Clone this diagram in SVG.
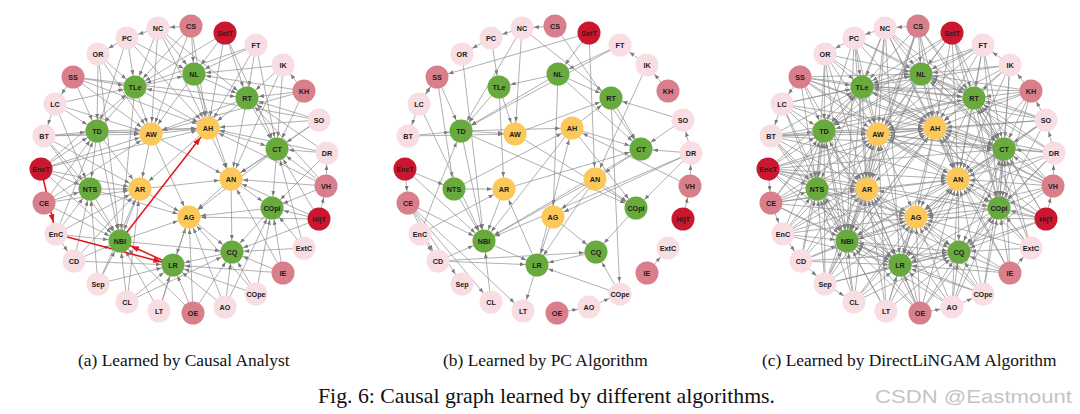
<svg xmlns="http://www.w3.org/2000/svg" xmlns:xlink="http://www.w3.org/1999/xlink" width="1080" height="414" viewBox="0 0 1080 414">
<defs>
<style>
.e{fill:none;stroke:#8e8e8e;stroke-width:0.7;marker-end:url(#ah)}
.r{fill:none;stroke:#e5131c;stroke-width:1.5;marker-end:url(#rh)}
.n text{font-family:"Liberation Sans",Arial,sans-serif;font-size:7.2px;font-weight:bold;fill:#202020;text-anchor:middle;dominant-baseline:central}
.d circle{fill:#c8172e}
.m circle{fill:#d97f8c}
.l circle{fill:#f8dde3}
.g circle{fill:#69aa3e}
.y circle{fill:#fcc85a}
.cap{font-family:"Liberation Serif","Times New Roman",serif;fill:#111}
.wm{font-family:"Liberation Sans",Arial,sans-serif;fill:#c4c4c4}
</style>
<marker id="ah" viewBox="0 0 17 4" refX="17" refY="2" markerWidth="17" markerHeight="4" markerUnits="userSpaceOnUse" orient="auto"><path d="M0 0L5 2L0 4z" fill="#7a7a7a" stroke="none"/></marker>
<marker id="rh" viewBox="0 0 20 6" refX="20" refY="3" markerWidth="20" markerHeight="6" markerUnits="userSpaceOnUse" orient="auto"><path d="M0 0L8 3L0 6z" fill="#e5131c" stroke="none"/></marker>
</defs>
<rect width="1080" height="414" fill="#ffffff"/>

<g id="panel-a">
<g id="a-edges" class="e">
<path d="M191 26L158 28"/><path d="M158 28L127 38"/><path d="M127 38L98 54"/><path d="M73 77L55 104"/><path d="M55 104L44 136"/><path d="M304 91L283 65"/><path d="M326 186L327 153"/><path d="M319 219L326 186"/><path d="M56 234L74 261"/>
<path d="M158 28L135 87"/><path d="M158 28L151 134"/><path d="M158 28L194 74"/><path d="M158 28L247 98"/><path d="M158 28L208 128"/>
<path d="M191 26L194 74"/><path d="M191 26L135 87"/><path d="M191 26L208 128"/><path d="M191 26L151 134"/>
<path d="M225 33L194 74"/><path d="M225 33L135 87"/><path d="M225 33L247 98"/><path d="M225 33L208 128"/><path d="M225 33L277 149"/>
<path d="M127 38L135 87"/><path d="M127 38L97 131"/><path d="M127 38L208 128"/><path d="M127 38L194 74"/>
<path d="M256 45L194 74"/><path d="M256 45L247 98"/><path d="M256 45L208 128"/><path d="M256 45L277 149"/><path d="M256 45L135 87"/>
<path d="M98 54L97 131"/><path d="M98 54L135 87"/><path d="M98 54L120 241"/><path d="M98 54L151 134"/>
<path d="M283 65L247 98"/><path d="M283 65L277 149"/><path d="M283 65L194 74"/><path d="M283 65L231 179"/>
<path d="M73 77L135 87"/><path d="M73 77L97 131"/><path d="M73 77L151 134"/><path d="M73 77L208 128"/><path d="M73 77L247 98"/>
<path d="M304 91L247 98"/><path d="M304 91L194 74"/><path d="M304 91L277 149"/><path d="M304 91L151 134"/>
<path d="M55 104L97 131"/><path d="M55 104L135 87"/><path d="M55 104L90 189"/><path d="M55 104L151 134"/>
<path d="M319 120L247 98"/><path d="M319 120L277 149"/><path d="M319 120L208 128"/><path d="M319 120L231 179"/><path d="M319 120L135 87"/>
<path d="M44 136L97 131"/><path d="M44 136L151 134"/><path d="M44 136L90 189"/><path d="M44 136L140 189"/><path d="M44 136L208 128"/><path d="M44 136L120 241"/>
<path d="M327 153L277 149"/><path d="M327 153L247 98"/><path d="M327 153L208 128"/><path d="M327 153L272 208"/>
<path d="M41 169L97 131"/><path d="M41 169L90 189"/><path d="M41 169L140 189"/><path d="M41 169L151 134"/><path d="M41 169L135 87"/><path d="M41 169L120 241"/><path d="M41 169L208 128"/>
<path d="M326 186L277 149"/><path d="M326 186L272 208"/><path d="M326 186L231 179"/><path d="M326 186L247 98"/><path d="M326 186L208 128"/>
<path d="M44 203L90 189"/><path d="M44 203L97 131"/><path d="M44 203L140 189"/><path d="M44 203L120 241"/><path d="M44 203L151 134"/>
<path d="M319 219L272 208"/><path d="M319 219L231 179"/><path d="M319 219L277 149"/><path d="M319 219L189 217"/><path d="M319 219L232 252"/>
<path d="M56 234L120 241"/><path d="M56 234L90 189"/><path d="M56 234L140 189"/><path d="M56 234L97 131"/>
<path d="M304 248L272 208"/><path d="M304 248L232 252"/><path d="M304 248L277 149"/>
<path d="M74 261L120 241"/><path d="M74 261L90 189"/><path d="M74 261L173 265"/><path d="M74 261L140 189"/>
<path d="M283 273L272 208"/><path d="M283 273L232 252"/><path d="M283 273L231 179"/><path d="M283 273L173 265"/>
<path d="M98 284L120 241"/><path d="M98 284L173 265"/><path d="M98 284L140 189"/><path d="M98 284L90 189"/>
<path d="M127 302L120 241"/><path d="M127 302L173 265"/><path d="M127 302L140 189"/><path d="M127 302L232 252"/>
<path d="M256 294L232 252"/><path d="M256 294L272 208"/><path d="M256 294L173 265"/><path d="M256 294L189 217"/>
<path d="M159 311L173 265"/><path d="M159 311L120 241"/><path d="M159 311L189 217"/>
<path d="M225 307L232 252"/><path d="M225 307L173 265"/><path d="M225 307L189 217"/><path d="M225 307L272 208"/>
<path d="M193 313L173 265"/><path d="M193 313L232 252"/><path d="M193 313L120 241"/><path d="M193 313L189 217"/>
<path d="M135 87L151 134"/><path d="M135 87L97 131"/><path d="M135 87L208 128"/><path d="M135 87L194 74"/><path d="M135 87L120 241"/>
<path d="M194 74L208 128"/><path d="M194 74L247 98"/><path d="M194 74L151 134"/><path d="M194 74L231 179"/>
<path d="M247 98L208 128"/><path d="M247 98L277 149"/><path d="M247 98L231 179"/><path d="M247 98L151 134"/>
<path d="M97 131L151 134"/><path d="M97 131L90 189"/><path d="M97 131L140 189"/><path d="M97 131L120 241"/><path d="M97 131L208 128"/>
<path d="M151 134L140 189"/><path d="M151 134L231 179"/><path d="M151 134L208 128"/><path d="M151 134L189 217"/>
<path d="M208 128L231 179"/><path d="M208 128L277 149"/><path d="M208 128L140 189"/>
<path d="M277 149L231 179"/><path d="M277 149L272 208"/><path d="M277 149L189 217"/>
<path d="M90 189L140 189"/><path d="M90 189L120 241"/><path d="M90 189L189 217"/>
<path d="M140 189L189 217"/><path d="M140 189L120 241"/><path d="M140 189L231 179"/>
<path d="M231 179L272 208"/><path d="M231 179L189 217"/><path d="M231 179L232 252"/>
<path d="M272 208L232 252"/><path d="M272 208L189 217"/>
<path d="M189 217L232 252"/><path d="M189 217L173 265"/><path d="M120 241L189 217"/>
<path d="M120 241L232 252"/><path d="M232 252L173 265"/>
</g>
<g id="a-red-edges" class="r">
<path d="M41 169L56 234"/><path d="M56 234L173 265"/><path d="M173 265L120 241"/><path d="M120 241L208 128"/>
</g>
<g id="a-NC" class="n l"><circle cx="158" cy="28" r="11.5"/><text x="158" y="28">NC</text></g>
<g id="a-CS" class="n m"><circle cx="191" cy="26" r="11.5"/><text x="191" y="26">CS</text></g>
<g id="a-SetT" class="n d"><circle cx="225" cy="33" r="11.5"/><text x="225" y="33">SetT</text></g>
<g id="a-PC" class="n l"><circle cx="127" cy="38" r="11.5"/><text x="127" y="38">PC</text></g>
<g id="a-FT" class="n l"><circle cx="256" cy="45" r="11.5"/><text x="256" y="45">FT</text></g>
<g id="a-OR" class="n l"><circle cx="98" cy="54" r="11.5"/><text x="98" y="54">OR</text></g>
<g id="a-IK" class="n l"><circle cx="283" cy="65" r="11.5"/><text x="283" y="65">IK</text></g>
<g id="a-SS" class="n m"><circle cx="73" cy="77" r="11.5"/><text x="73" y="77">SS</text></g>
<g id="a-NL" class="n g"><circle cx="194" cy="74" r="11.5"/><text x="194" y="74">NL</text></g>
<g id="a-KH" class="n m"><circle cx="304" cy="91" r="11.5"/><text x="304" y="91">KH</text></g>
<g id="a-TLe" class="n g"><circle cx="135" cy="87" r="11.5"/><text x="135" y="87">TLe</text></g>
<g id="a-LC" class="n l"><circle cx="55" cy="104" r="11.5"/><text x="55" y="104">LC</text></g>
<g id="a-RT" class="n g"><circle cx="247" cy="98" r="11.5"/><text x="247" y="98">RT</text></g>
<g id="a-SO" class="n l"><circle cx="319" cy="120" r="11.5"/><text x="319" y="120">SO</text></g>
<g id="a-BT" class="n l"><circle cx="44" cy="136" r="11.5"/><text x="44" y="136">BT</text></g>
<g id="a-TD" class="n g"><circle cx="97" cy="131" r="11.5"/><text x="97" y="131">TD</text></g>
<g id="a-AW" class="n y"><circle cx="151" cy="134" r="11.5"/><text x="151" y="134">AW</text></g>
<g id="a-AH" class="n y"><circle cx="208" cy="128" r="11.5"/><text x="208" y="128">AH</text></g>
<g id="a-CT" class="n g"><circle cx="277" cy="149" r="11.5"/><text x="277" y="149">CT</text></g>
<g id="a-DR" class="n l"><circle cx="327" cy="153" r="11.5"/><text x="327" y="153">DR</text></g>
<g id="a-EncT" class="n d"><circle cx="41" cy="169" r="11.5"/><text x="41" y="169">EncT</text></g>
<g id="a-NTS" class="n g"><circle cx="90" cy="189" r="11.5"/><text x="90" y="189">NTS</text></g>
<g id="a-AR" class="n y"><circle cx="140" cy="189" r="11.5"/><text x="140" y="189">AR</text></g>
<g id="a-AN" class="n y"><circle cx="231" cy="179" r="11.5"/><text x="231" y="179">AN</text></g>
<g id="a-VH" class="n m"><circle cx="326" cy="186" r="11.5"/><text x="326" y="186">VH</text></g>
<g id="a-CE" class="n m"><circle cx="44" cy="203" r="11.5"/><text x="44" y="203">CE</text></g>
<g id="a-COpi" class="n g"><circle cx="272" cy="208" r="11.5"/><text x="272" y="208">COpi</text></g>
<g id="a-HijT" class="n d"><circle cx="319" cy="219" r="11.5"/><text x="319" y="219">HijT</text></g>
<g id="a-AG" class="n y"><circle cx="189" cy="217" r="11.5"/><text x="189" y="217">AG</text></g>
<g id="a-EnC" class="n l"><circle cx="56" cy="234" r="11.5"/><text x="56" y="234">EnC</text></g>
<g id="a-NBI" class="n g"><circle cx="120" cy="241" r="11.5"/><text x="120" y="241">NBI</text></g>
<g id="a-ExtC" class="n l"><circle cx="304" cy="248" r="11.5"/><text x="304" y="248">ExtC</text></g>
<g id="a-CQ" class="n g"><circle cx="232" cy="252" r="11.5"/><text x="232" y="252">CQ</text></g>
<g id="a-LR" class="n g"><circle cx="173" cy="265" r="11.5"/><text x="173" y="265">LR</text></g>
<g id="a-CD" class="n l"><circle cx="74" cy="261" r="11.5"/><text x="74" y="261">CD</text></g>
<g id="a-IE" class="n m"><circle cx="283" cy="273" r="11.5"/><text x="283" y="273">IE</text></g>
<g id="a-Sep" class="n l"><circle cx="98" cy="284" r="11.5"/><text x="98" y="284">Sep</text></g>
<g id="a-CL" class="n l"><circle cx="127" cy="302" r="11.5"/><text x="127" y="302">CL</text></g>
<g id="a-COpe" class="n l"><circle cx="256" cy="294" r="11.5"/><text x="256" y="294">COpe</text></g>
<g id="a-LT" class="n l"><circle cx="159" cy="311" r="11.5"/><text x="159" y="311">LT</text></g>
<g id="a-AO" class="n l"><circle cx="225" cy="307" r="11.5"/><text x="225" y="307">AO</text></g>
<g id="a-OE" class="n m"><circle cx="193" cy="313" r="11.5"/><text x="193" y="313">OE</text></g>
</g>

<g id="panel-b" transform="translate(364 0)">
<g id="b-edges" class="e">
<path d="M191 26L158 28"/><path d="M158 28L127 38"/><path d="M127 38L98 54"/><path d="M73 77L55 104"/><path d="M55 104L73 77"/><path d="M55 104L44 136"/><path d="M304 91L283 65"/><path d="M283 65L256 45"/><path d="M327 153L319 120"/><path d="M326 186L327 153"/><path d="M319 219L326 186"/><path d="M41 169L44 203"/><path d="M283 273L304 248"/><path d="M193 313L225 307"/><path d="M225 307L256 294"/>
<path d="M44 203L74 261"/><path d="M44 203L98 284"/><path d="M44 203L127 302"/><path d="M44 203L159 311"/><path d="M56 234L74 261"/>
<path d="M225 33L73 77"/><path d="M225 33L231 179"/><path d="M225 33L194 74"/><path d="M127 38L135 87"/><path d="M158 28L151 134"/><path d="M158 28L97 131"/><path d="M158 28L247 98"/><path d="M191 26L277 149"/><path d="M98 54L120 241"/>
<path d="M256 45L194 74"/><path d="M256 45L97 131"/><path d="M283 65L231 179"/>
<path d="M194 74L247 98"/><path d="M194 74L277 149"/><path d="M194 74L189 217"/><path d="M194 74L135 87"/><path d="M194 74L97 131"/>
<path d="M208 128L247 98"/><path d="M151 134L247 98"/><path d="M208 128L277 149"/><path d="M208 128L272 208"/>
<path d="M319 120L247 98"/><path d="M319 120L277 149"/><path d="M327 153L277 149"/><path d="M327 153L272 208"/><path d="M327 153L120 241"/><path d="M327 153L189 217"/><path d="M326 186L208 128"/>
<path d="M247 98L256 294"/><path d="M247 98L277 149"/>
<path d="M135 87L97 131"/><path d="M135 87L151 134"/><path d="M97 131L151 134"/><path d="M44 136L151 134"/><path d="M44 136L97 131"/><path d="M73 77L97 131"/><path d="M73 77L90 189"/><path d="M55 104L120 241"/><path d="M97 131L120 241"/><path d="M97 131L208 128"/><path d="M135 87L140 189"/>
<path d="M41 169L120 241"/><path d="M41 169L90 189"/><path d="M90 189L120 241"/><path d="M140 189L120 241"/><path d="M90 189L140 189"/><path d="M140 189L277 149"/><path d="M90 189L208 128"/><path d="M151 134L272 208"/><path d="M97 131L272 208"/>
<path d="M56 234L97 131"/><path d="M56 234L140 189"/><path d="M44 203L120 241"/><path d="M74 261L120 241"/><path d="M74 261L173 265"/><path d="M74 261L232 252"/><path d="M127 302L120 241"/>
<path d="M173 265L159 311"/><path d="M173 265L140 189"/><path d="M173 265L208 128"/><path d="M120 241L173 265"/>
<path d="M231 179L189 217"/><path d="M231 179L173 265"/><path d="M231 179L272 208"/><path d="M231 179L120 241"/><path d="M189 217L232 252"/><path d="M189 217L173 265"/><path d="M272 208L232 252"/><path d="M277 149L120 241"/><path d="M232 252L173 265"/><path d="M256 294L173 265"/><path d="M256 294L232 252"/><path d="M208 128L120 241"/><path d="M277 149L231 179"/>
</g>
<g id="b-NC" class="n l"><circle cx="158" cy="28" r="11.5"/><text x="158" y="28">NC</text></g>
<g id="b-CS" class="n m"><circle cx="191" cy="26" r="11.5"/><text x="191" y="26">CS</text></g>
<g id="b-SetT" class="n d"><circle cx="225" cy="33" r="11.5"/><text x="225" y="33">SetT</text></g>
<g id="b-PC" class="n l"><circle cx="127" cy="38" r="11.5"/><text x="127" y="38">PC</text></g>
<g id="b-FT" class="n l"><circle cx="256" cy="45" r="11.5"/><text x="256" y="45">FT</text></g>
<g id="b-OR" class="n l"><circle cx="98" cy="54" r="11.5"/><text x="98" y="54">OR</text></g>
<g id="b-IK" class="n l"><circle cx="283" cy="65" r="11.5"/><text x="283" y="65">IK</text></g>
<g id="b-SS" class="n m"><circle cx="73" cy="77" r="11.5"/><text x="73" y="77">SS</text></g>
<g id="b-NL" class="n g"><circle cx="194" cy="74" r="11.5"/><text x="194" y="74">NL</text></g>
<g id="b-KH" class="n m"><circle cx="304" cy="91" r="11.5"/><text x="304" y="91">KH</text></g>
<g id="b-TLe" class="n g"><circle cx="135" cy="87" r="11.5"/><text x="135" y="87">TLe</text></g>
<g id="b-LC" class="n l"><circle cx="55" cy="104" r="11.5"/><text x="55" y="104">LC</text></g>
<g id="b-RT" class="n g"><circle cx="247" cy="98" r="11.5"/><text x="247" y="98">RT</text></g>
<g id="b-SO" class="n l"><circle cx="319" cy="120" r="11.5"/><text x="319" y="120">SO</text></g>
<g id="b-BT" class="n l"><circle cx="44" cy="136" r="11.5"/><text x="44" y="136">BT</text></g>
<g id="b-TD" class="n g"><circle cx="97" cy="131" r="11.5"/><text x="97" y="131">TD</text></g>
<g id="b-AW" class="n y"><circle cx="151" cy="134" r="11.5"/><text x="151" y="134">AW</text></g>
<g id="b-AH" class="n y"><circle cx="208" cy="128" r="11.5"/><text x="208" y="128">AH</text></g>
<g id="b-CT" class="n g"><circle cx="277" cy="149" r="11.5"/><text x="277" y="149">CT</text></g>
<g id="b-DR" class="n l"><circle cx="327" cy="153" r="11.5"/><text x="327" y="153">DR</text></g>
<g id="b-EncT" class="n d"><circle cx="41" cy="169" r="11.5"/><text x="41" y="169">EncT</text></g>
<g id="b-NTS" class="n g"><circle cx="90" cy="189" r="11.5"/><text x="90" y="189">NTS</text></g>
<g id="b-AR" class="n y"><circle cx="140" cy="189" r="11.5"/><text x="140" y="189">AR</text></g>
<g id="b-AN" class="n y"><circle cx="231" cy="179" r="11.5"/><text x="231" y="179">AN</text></g>
<g id="b-VH" class="n m"><circle cx="326" cy="186" r="11.5"/><text x="326" y="186">VH</text></g>
<g id="b-CE" class="n m"><circle cx="44" cy="203" r="11.5"/><text x="44" y="203">CE</text></g>
<g id="b-COpi" class="n g"><circle cx="272" cy="208" r="11.5"/><text x="272" y="208">COpi</text></g>
<g id="b-HijT" class="n d"><circle cx="319" cy="219" r="11.5"/><text x="319" y="219">HijT</text></g>
<g id="b-AG" class="n y"><circle cx="189" cy="217" r="11.5"/><text x="189" y="217">AG</text></g>
<g id="b-EnC" class="n l"><circle cx="56" cy="234" r="11.5"/><text x="56" y="234">EnC</text></g>
<g id="b-NBI" class="n g"><circle cx="120" cy="241" r="11.5"/><text x="120" y="241">NBI</text></g>
<g id="b-ExtC" class="n l"><circle cx="304" cy="248" r="11.5"/><text x="304" y="248">ExtC</text></g>
<g id="b-CQ" class="n g"><circle cx="232" cy="252" r="11.5"/><text x="232" y="252">CQ</text></g>
<g id="b-LR" class="n g"><circle cx="173" cy="265" r="11.5"/><text x="173" y="265">LR</text></g>
<g id="b-CD" class="n l"><circle cx="74" cy="261" r="11.5"/><text x="74" y="261">CD</text></g>
<g id="b-IE" class="n m"><circle cx="283" cy="273" r="11.5"/><text x="283" y="273">IE</text></g>
<g id="b-Sep" class="n l"><circle cx="98" cy="284" r="11.5"/><text x="98" y="284">Sep</text></g>
<g id="b-CL" class="n l"><circle cx="127" cy="302" r="11.5"/><text x="127" y="302">CL</text></g>
<g id="b-COpe" class="n l"><circle cx="256" cy="294" r="11.5"/><text x="256" y="294">COpe</text></g>
<g id="b-LT" class="n l"><circle cx="159" cy="311" r="11.5"/><text x="159" y="311">LT</text></g>
<g id="b-AO" class="n l"><circle cx="225" cy="307" r="11.5"/><text x="225" y="307">AO</text></g>
<g id="b-OE" class="n m"><circle cx="193" cy="313" r="11.5"/><text x="193" y="313">OE</text></g>
</g>

<g id="panel-c" transform="translate(727 0)">
<g id="c-edges" class="e">
<use href="#a-edges" xlink:href="#a-edges"/>
<path d="M41 169L44 203"/><path d="M44 203L56 234"/><path d="M74 261L98 284"/><path d="M98 284L127 302"/><path d="M283 65L256 45"/><path d="M327 153L319 120"/><path d="M193 313L225 307"/><path d="M225 307L256 294"/><path d="M283 273L304 248"/><path d="M319 120L304 91"/>
<path d="M120 241L208 128"/><path d="M56 234L173 265"/>
<path d="M158 28L277 149"/><path d="M158 28L90 189"/><path d="M158 28L140 189"/><path d="M158 28L231 179"/><path d="M158 28L173 265"/>
<path d="M191 26L247 98"/><path d="M191 26L140 189"/><path d="M191 26L231 179"/><path d="M191 26L277 149"/><path d="M191 26L120 241"/>
<path d="M225 33L151 134"/><path d="M225 33L231 179"/><path d="M225 33L97 131"/><path d="M225 33L272 208"/>
<path d="M127 38L151 134"/><path d="M127 38L140 189"/><path d="M127 38L120 241"/><path d="M127 38L247 98"/>
<path d="M256 45L151 134"/><path d="M256 45L231 179"/><path d="M256 45L272 208"/><path d="M256 45L97 131"/>
<path d="M98 54L140 189"/><path d="M98 54L90 189"/><path d="M98 54L208 128"/><path d="M98 54L194 74"/>
<path d="M283 65L208 128"/><path d="M283 65L272 208"/><path d="M283 65L151 134"/><path d="M283 65L135 87"/>
<path d="M73 77L194 74"/><path d="M73 77L90 189"/><path d="M73 77L140 189"/><path d="M73 77L277 149"/><path d="M73 77L231 179"/>
<path d="M304 91L208 128"/><path d="M304 91L231 179"/><path d="M304 91L272 208"/><path d="M304 91L135 87"/>
<path d="M55 104L140 189"/><path d="M55 104L120 241"/><path d="M55 104L208 128"/><path d="M55 104L194 74"/>
<path d="M319 120L194 74"/><path d="M319 120L151 134"/><path d="M319 120L272 208"/><path d="M319 120L189 217"/>
<path d="M44 136L135 87"/><path d="M44 136L231 179"/><path d="M44 136L173 265"/><path d="M44 136L247 98"/><path d="M44 136L277 149"/>
<path d="M327 153L194 74"/><path d="M327 153L231 179"/><path d="M327 153L151 134"/><path d="M327 153L189 217"/><path d="M327 153L232 252"/>
<path d="M41 169L231 179"/><path d="M41 169L189 217"/><path d="M41 169L272 208"/><path d="M41 169L173 265"/><path d="M41 169L277 149"/>
<path d="M326 186L194 74"/><path d="M326 186L151 134"/><path d="M326 186L189 217"/><path d="M326 186L232 252"/><path d="M326 186L135 87"/>
<path d="M44 203L208 128"/><path d="M44 203L189 217"/><path d="M44 203L173 265"/><path d="M44 203L231 179"/><path d="M44 203L135 87"/>
<path d="M319 219L208 128"/><path d="M319 219L151 134"/><path d="M319 219L140 189"/><path d="M319 219L247 98"/><path d="M319 219L173 265"/>
<path d="M56 234L151 134"/><path d="M56 234L189 217"/><path d="M56 234L208 128"/><path d="M56 234L231 179"/>
<path d="M304 248L231 179"/><path d="M304 248L189 217"/><path d="M304 248L247 98"/><path d="M304 248L208 128"/>
<path d="M74 261L151 134"/><path d="M74 261L189 217"/><path d="M74 261L97 131"/><path d="M74 261L232 252"/>
<path d="M283 273L189 217"/><path d="M283 273L277 149"/><path d="M283 273L208 128"/><path d="M283 273L120 241"/>
<path d="M98 284L97 131"/><path d="M98 284L189 217"/><path d="M98 284L151 134"/><path d="M98 284L232 252"/><path d="M98 284L208 128"/>
<path d="M127 302L97 131"/><path d="M127 302L189 217"/><path d="M127 302L231 179"/><path d="M127 302L90 189"/>
<path d="M256 294L231 179"/><path d="M256 294L277 149"/><path d="M256 294L120 241"/><path d="M256 294L140 189"/>
<path d="M159 311L232 252"/><path d="M159 311L140 189"/><path d="M159 311L151 134"/><path d="M159 311L90 189"/><path d="M159 311L231 179"/>
<path d="M225 307L231 179"/><path d="M225 307L120 241"/><path d="M225 307L140 189"/><path d="M225 307L277 149"/>
<path d="M193 313L140 189"/><path d="M193 313L231 179"/><path d="M193 313L272 208"/><path d="M193 313L151 134"/><path d="M193 313L90 189"/><path d="M193 313L97 131"/>
<path d="M135 87L247 98"/><path d="M135 87L140 189"/><path d="M135 87L277 149"/><path d="M194 74L97 131"/><path d="M194 74L277 149"/><path d="M194 74L140 189"/><path d="M194 74L120 241"/><path d="M247 98L97 131"/><path d="M247 98L272 208"/><path d="M247 98L189 217"/>
<path d="M97 131L173 265"/><path d="M151 134L120 241"/><path d="M151 134L277 149"/><path d="M151 134L272 208"/><path d="M208 128L189 217"/><path d="M208 128L120 241"/><path d="M208 128L272 208"/><path d="M208 128L173 265"/>
<path d="M277 149L232 252"/><path d="M277 149L120 241"/><path d="M277 149L173 265"/><path d="M90 189L173 265"/><path d="M90 189L232 252"/><path d="M140 189L173 265"/><path d="M140 189L232 252"/><path d="M231 179L173 265"/><path d="M231 179L120 241"/><path d="M272 208L173 265"/><path d="M272 208L120 241"/><path d="M120 241L173 265"/>
</g>
<g id="c-NC" class="n l"><circle cx="158" cy="28" r="11.5"/><text x="158" y="28">NC</text></g>
<g id="c-CS" class="n m"><circle cx="191" cy="26" r="11.5"/><text x="191" y="26">CS</text></g>
<g id="c-SetT" class="n d"><circle cx="225" cy="33" r="11.5"/><text x="225" y="33">SetT</text></g>
<g id="c-PC" class="n l"><circle cx="127" cy="38" r="11.5"/><text x="127" y="38">PC</text></g>
<g id="c-FT" class="n l"><circle cx="256" cy="45" r="11.5"/><text x="256" y="45">FT</text></g>
<g id="c-OR" class="n l"><circle cx="98" cy="54" r="11.5"/><text x="98" y="54">OR</text></g>
<g id="c-IK" class="n l"><circle cx="283" cy="65" r="11.5"/><text x="283" y="65">IK</text></g>
<g id="c-SS" class="n m"><circle cx="73" cy="77" r="11.5"/><text x="73" y="77">SS</text></g>
<g id="c-NL" class="n g"><circle cx="194" cy="74" r="11.5"/><text x="194" y="74">NL</text></g>
<g id="c-KH" class="n m"><circle cx="304" cy="91" r="11.5"/><text x="304" y="91">KH</text></g>
<g id="c-TLe" class="n g"><circle cx="135" cy="87" r="11.5"/><text x="135" y="87">TLe</text></g>
<g id="c-LC" class="n l"><circle cx="55" cy="104" r="11.5"/><text x="55" y="104">LC</text></g>
<g id="c-RT" class="n g"><circle cx="247" cy="98" r="11.5"/><text x="247" y="98">RT</text></g>
<g id="c-SO" class="n l"><circle cx="319" cy="120" r="11.5"/><text x="319" y="120">SO</text></g>
<g id="c-BT" class="n l"><circle cx="44" cy="136" r="11.5"/><text x="44" y="136">BT</text></g>
<g id="c-TD" class="n g"><circle cx="97" cy="131" r="11.5"/><text x="97" y="131">TD</text></g>
<g id="c-AW" class="n y"><circle cx="151" cy="134" r="11.5"/><text x="151" y="134">AW</text></g>
<g id="c-AH" class="n y"><circle cx="208" cy="128" r="11.5"/><text x="208" y="128">AH</text></g>
<g id="c-CT" class="n g"><circle cx="277" cy="149" r="11.5"/><text x="277" y="149">CT</text></g>
<g id="c-DR" class="n l"><circle cx="327" cy="153" r="11.5"/><text x="327" y="153">DR</text></g>
<g id="c-EncT" class="n d"><circle cx="41" cy="169" r="11.5"/><text x="41" y="169">EncT</text></g>
<g id="c-NTS" class="n g"><circle cx="90" cy="189" r="11.5"/><text x="90" y="189">NTS</text></g>
<g id="c-AR" class="n y"><circle cx="140" cy="189" r="11.5"/><text x="140" y="189">AR</text></g>
<g id="c-AN" class="n y"><circle cx="231" cy="179" r="11.5"/><text x="231" y="179">AN</text></g>
<g id="c-VH" class="n m"><circle cx="326" cy="186" r="11.5"/><text x="326" y="186">VH</text></g>
<g id="c-CE" class="n m"><circle cx="44" cy="203" r="11.5"/><text x="44" y="203">CE</text></g>
<g id="c-COpi" class="n g"><circle cx="272" cy="208" r="11.5"/><text x="272" y="208">COpi</text></g>
<g id="c-HijT" class="n d"><circle cx="319" cy="219" r="11.5"/><text x="319" y="219">HijT</text></g>
<g id="c-AG" class="n y"><circle cx="189" cy="217" r="11.5"/><text x="189" y="217">AG</text></g>
<g id="c-EnC" class="n l"><circle cx="56" cy="234" r="11.5"/><text x="56" y="234">EnC</text></g>
<g id="c-NBI" class="n g"><circle cx="120" cy="241" r="11.5"/><text x="120" y="241">NBI</text></g>
<g id="c-ExtC" class="n l"><circle cx="304" cy="248" r="11.5"/><text x="304" y="248">ExtC</text></g>
<g id="c-CQ" class="n g"><circle cx="232" cy="252" r="11.5"/><text x="232" y="252">CQ</text></g>
<g id="c-LR" class="n g"><circle cx="173" cy="265" r="11.5"/><text x="173" y="265">LR</text></g>
<g id="c-CD" class="n l"><circle cx="74" cy="261" r="11.5"/><text x="74" y="261">CD</text></g>
<g id="c-IE" class="n m"><circle cx="283" cy="273" r="11.5"/><text x="283" y="273">IE</text></g>
<g id="c-Sep" class="n l"><circle cx="98" cy="284" r="11.5"/><text x="98" y="284">Sep</text></g>
<g id="c-CL" class="n l"><circle cx="127" cy="302" r="11.5"/><text x="127" y="302">CL</text></g>
<g id="c-COpe" class="n l"><circle cx="256" cy="294" r="11.5"/><text x="256" y="294">COpe</text></g>
<g id="c-LT" class="n l"><circle cx="159" cy="311" r="11.5"/><text x="159" y="311">LT</text></g>
<g id="c-AO" class="n l"><circle cx="225" cy="307" r="11.5"/><text x="225" y="307">AO</text></g>
<g id="c-OE" class="n m"><circle cx="193" cy="313" r="11.5"/><text x="193" y="313">OE</text></g>
</g>

<g id="captions">
<text class="cap" x="78" y="366" font-size="17.4">(a) Learned by Causal Analyst</text>
<text class="cap" x="443" y="366" font-size="17.4">(b) Learned by PC Algorithm</text>
<text class="cap" x="762" y="366" font-size="17.4">(c) Learned by DirectLiNGAM Algorithm</text>
<text class="cap" x="318" y="403" font-size="21.5" textLength="457" lengthAdjust="spacingAndGlyphs">Fig. 6: Causal graph learned by different algorithms.</text>
<text class="wm" x="875" y="403" font-size="19" textLength="197" lengthAdjust="spacingAndGlyphs">CSDN @Eastmount</text>
</g>
</svg>
